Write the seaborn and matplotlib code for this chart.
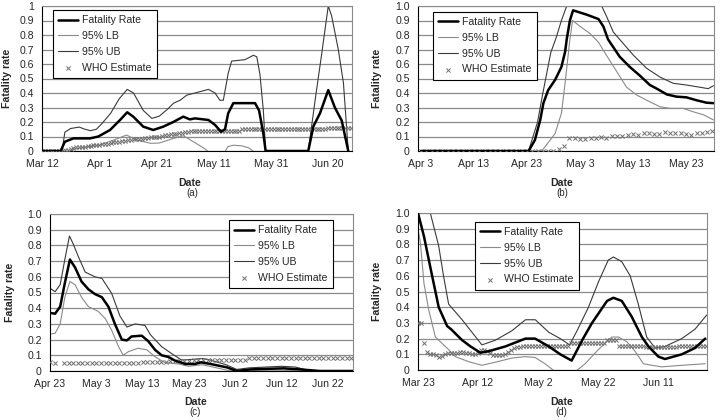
import matplotlib
matplotlib.use("Agg")
import matplotlib.pyplot as plt
import seaborn as sns
import numpy as np

# ---- panel (a): days from Mar 12 ----
a_fr_day = [0, 6.5, 8, 11, 16.8, 19.7, 23.8, 27.3, 29.8, 31.9, 35.4, 38.9, 42.4, 45.9, 49.4, 51.7, 53.5,
            58.2, 60.5, 62.6, 64, 65.1, 66.9, 74.5, 75.9, 77.4, 78.2, 93.1, 94.9, 97.2, 100.1, 102.4, 104.8, 107.1]
a_fr = [0, 0, 0.064, 0.087, 0.087, 0.1, 0.145, 0.214, 0.267, 0.237, 0.168, 0.145, 0.168, 0.2, 0.237, 0.218, 0.225,
        0.214, 0.18, 0.133, 0.15, 0.26, 0.33, 0.33, 0.28, 0.12, 0, 0, 0.17, 0.26, 0.42, 0.3, 0.21, 0]
a_lb_day = [0, 6, 7, 9, 11, 13, 20, 25, 29.6, 33, 38, 41, 46, 49.5, 52, 54.5, 57, 59.5, 62, 63.5, 65, 67, 70, 72.5, 75]
a_lb = [0, 0, -0.01, -0.01, 0.01, 0.02, 0.04, 0.075, 0.11, 0.076, 0.053, 0.055, 0.087, 0.105, 0.075, 0.045, 0.015,
        -0.03, -0.1, -0.02, 0.03, 0.04, 0.035, 0.02, -0.02]
a_ub_day = [0, 7, 8, 10, 13, 15, 17, 19, 21, 24, 27, 29.8, 32, 35.4, 38.4, 41, 44, 46, 48.3, 50.6, 53.5, 58.2, 60.5,
            62.2, 63.4, 65.1, 66.3, 71, 73.9, 75.1, 76.2, 77.4, 78.2, 93.1, 95.5, 97.8, 100.1, 101.3, 103.6, 105.4, 107.1]
a_ub = [0, 0, 0.13, 0.155, 0.165, 0.15, 0.14, 0.15, 0.19, 0.26, 0.36, 0.425, 0.4, 0.28, 0.225, 0.24, 0.29, 0.33, 0.35,
        0.385, 0.4, 0.425, 0.4, 0.35, 0.35, 0.535, 0.62, 0.63, 0.66, 0.65, 0.53, 0.28, 0, 0, 0.35, 0.67, 1.0, 0.93, 0.7,
        0.47, 0]
a_who = [0, 0, 0, 0, 0, 0, 0, 0,
         0.005, 0.01, 0.015, 0.02, 0.025, 0.025, 0.03, 0.03, 0.035, 0.035, 0.04, 0.04, 0.04, 0.045, 0.05, 0.05,
         0.055, 0.06, 0.06, 0.065, 0.07, 0.07, 0.075, 0.075, 0.08, 0.08, 0.085, 0.085, 0.09, 0.09, 0.095, 0.095,
         0.1, 0.1, 0.105, 0.11, 0.11, 0.115, 0.12, 0.12, 0.125, 0.125, 0.13, 0.13, 0.135, 0.135,
         0.14, 0.14, 0.14, 0.14, 0.14, 0.14, 0.14, 0.14, 0.14, 0.14, 0.14, 0.14, 0.14, 0.14, 0.14, 0.14,
         0.15,
         0.155, 0.155, 0.155, 0.155, 0.155, 0.155, 0.155, 0.155, 0.155, 0.155, 0.155, 0.155, 0.155, 0.155, 0.155,
         0.155, 0.155, 0.155, 0.155, 0.155, 0.155, 0.155, 0.155, 0.155, 0.155, 0.155, 0.155, 0.155, 0.155,
         0.16, 0.16, 0.16, 0.16, 0.16, 0.16, 0.16, 0.16, 0.16]
a_ticks = [0, 20, 40, 60, 80, 100]
a_labels = ["Mar 12", "Apr 1", "Apr 21", "May 11", "May 31", "Jun 20"]

# ---- panel (b): days from Apr 3 ----
b_fr_day = [0, 20.3, 21.5, 22.5, 23.1, 24, 25.3, 26.5, 27.2, 27.5, 28.1, 28.7, 31.3, 33.5, 34.4, 35.3, 37.5, 39.4,
            41.3, 43.2, 44.5, 46.4, 48.2, 50.1, 52, 53.9, 55.2]
b_fr = [0, 0, 0.076, 0.214, 0.33, 0.42, 0.49, 0.58, 0.685, 0.77, 0.9, 0.97, 0.94, 0.91, 0.86, 0.77, 0.65, 0.58,
        0.52, 0.455, 0.43, 0.39, 0.375, 0.37, 0.35, 0.333, 0.33]
b_lb_day = [0, 22.8, 25.3, 26.5, 27.2, 28.1, 28.6, 30, 31.9, 33.5, 35, 36.9, 38.8, 40.7, 42.6, 45.1, 47, 49.5, 51.4,
            53.3, 55.2]
b_lb = [0, 0, 0.12, 0.26, 0.47, 0.77, 0.9, 0.86, 0.81, 0.75, 0.66, 0.55, 0.44, 0.386, 0.35, 0.305, 0.294, 0.294,
        0.27, 0.25, 0.214]
b_ub_day = [0, 20.3, 22, 23, 24.5, 25.5, 26.5, 27.5, 28, 30, 32, 34.1, 35, 36.3, 38.2, 40.1, 42.6, 45.1, 47.6, 50.1,
            52.6, 54.2, 55.2]
b_ub = [0, 0, 0.2, 0.4, 0.68, 0.78, 0.9, 1.0, 1.08, 1.3, 1.3, 1.0, 0.93, 0.82, 0.74, 0.66, 0.57, 0.51, 0.467, 0.455,
        0.44, 0.43, 0.45]
b_who = [0, 0, 0, 0, 0, 0, 0, 0, 0, 0, 0, 0, 0, 0, 0, 0, 0, 0, 0, 0, 0, 0, 0, 0, 0, 0,
         0.015, 0.035, 0.09, 0.09, 0.085, 0.08, 0.09, 0.09, 0.1, 0.09, 0.105, 0.105, 0.105, 0.11, 0.12, 0.11,
         0.125, 0.125, 0.12, 0.12, 0.13, 0.125, 0.125, 0.125, 0.115, 0.11, 0.125, 0.125, 0.13, 0.135]
b_ticks = [0, 10, 20, 30, 40, 50]
b_labels = ["Apr 3", "Apr 13", "Apr 23", "May 3", "May 13", "May 23"]

# ---- panel (c): days from Apr 23 ----
c_fr_day = [0, 1.1, 2.2, 3.2, 4.3, 5.4, 6.8, 8.3, 9.7, 11.2, 12.6, 14, 15.5, 16.6, 17.6, 19.8, 21.2, 22.7, 24.1,
            25.5, 27, 29.2, 31.3, 32.6, 34.6, 38.2, 40.3, 43.2, 50.4, 54, 58.3, 65.4]
c_fr = [0.37, 0.365, 0.41, 0.56, 0.71, 0.66, 0.57, 0.52, 0.49, 0.47, 0.41, 0.3, 0.2, 0.195, 0.22, 0.225, 0.19,
        0.134, 0.1, 0.09, 0.066, 0.045, 0.045, 0.055, 0.045, 0.023, 0, 0.01, 0.017, 0.01, 0, 0]
c_lb_day = [0, 1.1, 2.2, 3.2, 4.3, 5.4, 6.8, 8.3, 10.4, 11.9, 13.3, 14.8, 15.8, 16.9, 19, 20.9, 22.7, 24.8, 27.7,
            29.9, 32.8, 36, 39, 43, 50, 55, 65.4]
c_lb = [0.235, 0.24, 0.3, 0.47, 0.57, 0.55, 0.47, 0.41, 0.38, 0.335, 0.26, 0.155, 0.1, 0.123, 0.145, 0.135, 0.09,
        0.053, 0.045, 0.03, 0.04, 0.02, 0, 0.005, 0.005, 0, 0]
c_ub_day = [0, 1.1, 2.2, 3.2, 4.2, 5, 6.1, 7.6, 9.7, 11.2, 13.3, 15.1, 16.6, 18.4, 20.5, 21.7, 24.1, 26.3, 28.4,
            31.3, 32.8, 34.6, 38, 40.3, 43, 50, 53, 55, 58, 65.4]
c_ub = [0.527, 0.505, 0.55, 0.71, 0.86, 0.81, 0.73, 0.63, 0.6, 0.59, 0.495, 0.35, 0.28, 0.3, 0.29, 0.23, 0.155, 0.11,
        0.07, 0.075, 0.08, 0.07, 0.04, 0.01, 0.02, 0.03, 0.025, 0.01, 0, 0]
c_who = [0.055, 0.05, np.nan,
         0.05, 0.05, 0.05, 0.05, 0.05, 0.05, 0.05, 0.05, 0.05,
         0.052, 0.052, 0.052, 0.052, 0.052, 0.052, 0.052, 0.052,
         0.06, 0.06, 0.06, 0.06, 0.06, 0.06,
         0.065, 0.065, 0.065, 0.065, 0.065,
         0.07, 0.07, 0.07, 0.07, 0.07, 0.07, 0.07, 0.07, 0.07, 0.07, 0.07, 0.07,
         0.08, 0.08, 0.08, 0.08, 0.08, 0.08, 0.08, 0.08, 0.08, 0.08, 0.08, 0.08, 0.08, 0.08, 0.08, 0.08, 0.08,
         0.08, 0.08, 0.08, 0.08, 0.08, 0.08]
c_ticks = [0, 10, 20, 30, 40, 50, 60]
c_labels = ["Apr 23", "May 3", "May 13", "May 23", "Jun 2", "Jun 12", "Jun 22"]

# ---- panel (d): days from Mar 23 ----
d_fr_day = [0, 2, 4.7, 6.9, 9.7, 11, 14.7, 17.5, 20.8, 23.6, 29.1, 35.8, 39, 43.6, 47.4, 51.2, 55, 58, 60.5, 63,
            65.1, 67.9, 71.2, 74.6, 76.8, 80.1, 82.3, 87.9, 92.3, 95.7]
d_fr = [1.0, 0.85, 0.6, 0.4, 0.28, 0.26, 0.19, 0.15, 0.11, 0.12, 0.15, 0.2, 0.2, 0.15, 0.1, 0.06, 0.2, 0.3, 0.37,
        0.44, 0.46, 0.44, 0.34, 0.21, 0.15, 0.085, 0.07, 0.1, 0.14, 0.2]
d_lb_day = [0, 0.8, 2, 3.6, 5.8, 8, 10.2, 12.4, 16.9, 21.3, 25.8, 31.3, 35.7, 39, 42.3, 45, 46.9, 51.8, 55.7, 60.1,
            64.6, 66.8, 69.6, 72.3, 75.1, 77.9, 81.2, 87.9, 95.7]
d_lb = [0.9, 0.81, 0.55, 0.38, 0.21, 0.17, 0.13, 0.085, 0.053, 0.03, 0.05, 0.076, 0.085, 0.08, 0.04, 0.0, -0.04,
        -0.02, 0.04, 0.13, 0.21, 0.21, 0.18, 0.12, 0.04, 0.03, 0.02, 0.03, 0.04]
d_ub_day = [0, 4.1, 6.9, 8.5, 10.2, 14.7, 18, 21.3, 25.8, 31.3, 35.8, 39.1, 43.6, 47.4, 50.5, 53, 56.8, 60.1, 63.4,
            65.1, 67.9, 70.7, 73.4, 76.2, 79, 82.3, 87.9, 92.3, 96.2]
d_ub = [1.25, 1.0, 0.79, 0.6, 0.42, 0.32, 0.24, 0.16, 0.19, 0.25, 0.32, 0.32, 0.24, 0.2, 0.16, 0.25, 0.4, 0.56, 0.7,
        0.72, 0.69, 0.6, 0.42, 0.21, 0.14, 0.15, 0.2, 0.26, 0.35]
d_who = [0.3, 0.3, 0.17, 0.115, 0.105, 0.1, 0.095, 0.085, 0.09, 0.1, 0.11, 0.11, 0.11, 0.11, 0.115, 0.115, 0.11,
         0.11, 0.105, 0.1, 0.11, 0.125, 0.125, 0.12, 0.11, 0.095, 0.095, 0.095, 0.095, 0.105, 0.115, 0.125, 0.14,
         0.145, 0.145, 0.15,
         0.155, 0.155, 0.155, 0.155, 0.155, 0.155, 0.155, 0.155, 0.155, 0.155, 0.155, 0.155, 0.155, 0.155, 0.155,
         0.17, 0.17, 0.17, 0.17, 0.17, 0.17, 0.17, 0.17, 0.17, 0.17, 0.17, 0.17,
         0.19, 0.19, 0.19, 0.19,
         0.155, 0.155, 0.155, 0.155, 0.155, 0.155, 0.155, 0.155, 0.155,
         0.148, 0.148, 0.148, 0.148, 0.148, 0.148, 0.148, 0.148, 0.148, 0.148, 0.148,
         0.155, 0.155, 0.155, 0.155, 0.155, 0.155, 0.155, 0.155, 0.155, 0.155]
d_ticks = [0, 20, 40, 60, 80]
d_labels = ["Mar 23", "Apr 12", "May 2", "May 22", "Jun 11"]

y_ticks = [0, 0.1, 0.2, 0.3, 0.4, 0.5, 0.6, 0.7, 0.8, 0.9, 1.0]
y_labels_a = ["0", "0.1", "0.2", "0.3", "0.4", "0.5", "0.6", "0.7", "0.8", "0.9", "1"]
y_labels = ["0", "0.1", "0.2", "0.3", "0.4", "0.5", "0.6", "0.7", "0.8", "0.9", "1.0"]

sns.set_style("white")
plt.rcParams["font.family"] = ["Liberation Sans", "DejaVu Sans"]
FS = 7.6

fig = plt.figure(figsize=(7.2, 4.2), dpi=100)


def panel(rect, fr_d, fr, lb_d, lb, ub_d, ub, who, ticks, tlabels, ylabs, xlim,
          leg_loc, leg_anchor, letter, ylab_x, date_xy, letter_xy):
    ax = fig.add_axes(rect)
    ax.grid(axis="y", color="#8a8a8a", lw=0.9)
    ax.set_axisbelow(True)
    sns.lineplot(x=lb_d, y=lb, ax=ax, color="#8a8a8a", lw=0.8, label="95% LB")
    sns.lineplot(x=ub_d, y=ub, ax=ax, color="#3a3a3a", lw=0.8, label="95% UB")
    sns.scatterplot(x=list(range(len(who))), y=who, ax=ax, marker="x", color="#707070",
                    s=9, linewidth=0.7, label="WHO Estimate", zorder=3)
    sns.lineplot(x=fr_d, y=fr, ax=ax, color="black", lw=1.8, label="Fatality Rate", zorder=4)
    ax.set_xlim(*xlim)
    ax.set_ylim(0, 1)
    ax.set_yticks(y_ticks)
    ax.set_yticklabels(ylabs)
    ax.set_xticks(ticks)
    ax.set_xticklabels(tlabels)
    ax.tick_params(axis="both", labelsize=FS, length=3, width=0.8, direction="out", color="#333333", pad=3)
    ax.tick_params(axis="y", pad=3)
    for s in ["top", "right"]:
        ax.spines[s].set_color("#8a8a8a")
        ax.spines[s].set_linewidth(0.8)
    for s in ["left", "bottom"]:
        ax.spines[s].set_color("black")
        ax.spines[s].set_linewidth(0.8)
    ax.set_ylabel("Fatality rate", fontsize=FS, fontweight="bold")
    ax.yaxis.set_label_coords(ylab_x, 0.5)
    ax.yaxis.label.set_va("center")
    ax.set_xlabel("Date", fontsize=FS, fontweight="bold")
    ax.xaxis.set_label_coords(*date_xy)
    ax.xaxis.label.set_va("center")
    ax.text(letter_xy[0], letter_xy[1], letter, transform=ax.transAxes, ha="center", va="center", fontsize=7)
    h, l = ax.get_legend_handles_labels()
    order = ["Fatality Rate", "95% LB", "95% UB", "WHO Estimate"]
    hh = [h[l.index(o)] for o in order]
    leg = ax.legend(hh, order, loc=leg_loc, bbox_to_anchor=leg_anchor, fontsize=FS, frameon=True,
                    fancybox=False, edgecolor="black", framealpha=1, handlelength=1.9, handletextpad=0.4,
                    labelspacing=0.55, borderpad=0.5, borderaxespad=0)
    leg.get_frame().set_linewidth(0.8)
    return ax


panel([42 / 720, 1 - 151 / 420, 310 / 720, 145 / 420], a_fr_day, a_fr, a_lb_day, a_lb, a_ub_day, a_ub, a_who,
      a_ticks, a_labels, y_labels_a, (0, 108.4), "upper left", (0.035, 0.972), "(a)",
      -0.113, (0.477, -0.22), (0.486, -0.29))
panel([418 / 720, 1 - 151 / 420, 296 / 720, 145 / 420], b_fr_day, b_fr, b_lb_day, b_lb, b_ub_day, b_ub, b_who,
      b_ticks, b_labels, y_labels, (-0.57, 55.3), "upper left", (0.05, 0.96), "(b)",
      -0.139, (0.485, -0.22), (0.489, -0.29))
panel([50 / 720, 1 - 371 / 420, 303 / 720, 157 / 420], c_fr_day, c_fr, c_lb_day, c_lb, c_ub_day, c_ub, c_who,
      c_ticks, c_labels, y_labels, (0, 65.4), "upper right", (0.934, 0.962), "(c)",
      -0.132, (0.479, -0.2), (0.479, -0.261))
panel([418 / 720, 1 - 370 / 420, 289 / 720, 157 / 420], d_fr_day, d_fr, d_lb_day, d_lb, d_ub_day, d_ub, d_who,
      d_ticks, d_labels, y_labels, (0, 96.3), "upper left", (0.197, 0.945), "(d)",
      -0.142, (0.497, -0.207), (0.497, -0.267))

fig.savefig("out.png", dpi=100)
